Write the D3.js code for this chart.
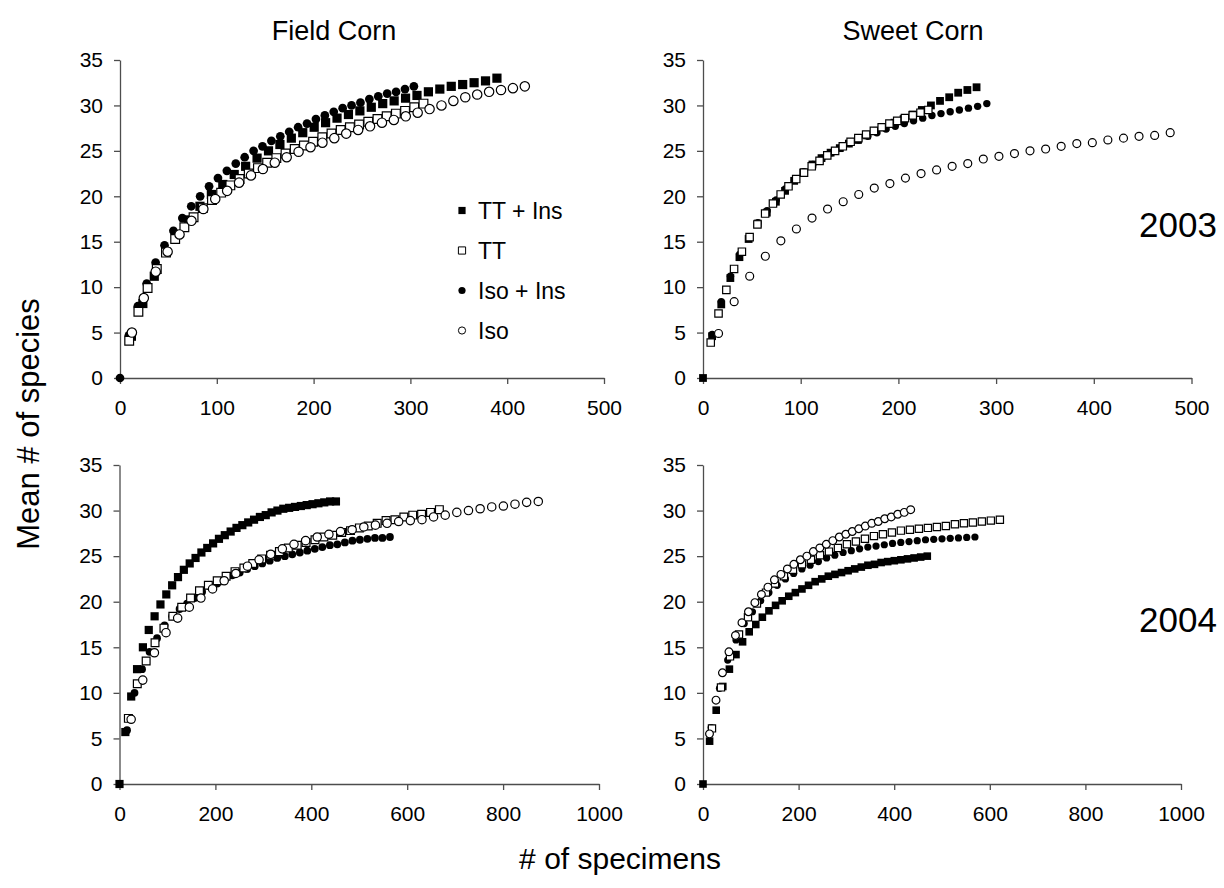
<!DOCTYPE html>
<html>
<head>
<meta charset="utf-8">
<script src="https://cdn.jsdelivr.net/npm/d3@7"></script>
<style>
  body { margin: 0; background: #fff; }
  svg { display: block; font-family: "Liberation Sans", Arial, Helvetica, sans-serif; }
</style>
</head>
<body>
<svg id="chart" width="1224" height="888"></svg>
<script>
// Species accumulation curves: [mean # of specimens, mean # of species]

// ---- Field Corn, 2003 ----
const fc03TTIns = [[11.8,4.6],[23.6,8.2],[35.4,11.2],[47.2,13.9],[59,15.8],[70.8,17.4],[82.6,18.9],[94.4,20.2],[106.2,21.3],[118,22.4],[129.8,23.3],[141.6,24.2],[153.4,25.0],[165.2,25.7],[177,26.4],[188.8,27.0],[200.6,27.6],[212.4,28.1],[224.2,28.6],[236,29.0],[247.8,29.4],[259.6,29.8],[271.4,30.2],[283.2,30.5],[295,30.8],[306.8,31.1],[318.6,31.5],[330.4,31.8],[342.2,32.1],[354,32.3],[365.8,32.5],[377.6,32.7],[389.4,33.0]];
const fc03TT = [[9.5,4.1],[19,7.3],[28.5,9.9],[38,12.0],[47.5,13.8],[57,15.3],[66.5,16.6],[76,17.7],[85.5,18.7],[95,19.6],[104.5,20.4],[114,21.2],[123.5,21.9],[133,22.5],[142.5,23.1],[152,23.7],[161.5,24.2],[171,24.7],[180.5,25.2],[190,25.6],[199.5,26.0],[209,26.5],[218.5,26.9],[228,27.3],[237.5,27.6],[247,27.9],[256.5,28.2],[266,28.5],[275.5,28.8],[285,29.1],[294.5,29.4],[304,29.8],[313.5,30.2]];
const fc03IsoIns = [[0,0],[9.2,4.7],[18.4,7.9],[27.6,10.4],[36.8,12.7],[46,14.6],[55.2,16.2],[64.4,17.6],[73.6,18.9],[82.8,20.0],[92,21.1],[101.2,22.0],[110.4,22.8],[119.6,23.6],[128.8,24.3],[138,25.0],[147.2,25.5],[156.4,26.1],[165.6,26.6],[174.8,27.1],[184,27.6],[193.2,28.0],[202.4,28.5],[211.6,28.9],[220.8,29.3],[230,29.7],[239.2,30.0],[248.4,30.3],[257.6,30.7],[266.8,31.0],[276,31.3],[285.2,31.5],[294.4,31.8],[303.6,32.1]];
const fc03Iso = [[12.3,5.0],[24.6,8.8],[36.9,11.7],[49.2,13.9],[61.5,15.8],[73.8,17.3],[86.1,18.6],[98.4,19.7],[110.7,20.6],[123,21.5],[135.3,22.3],[147.6,23.0],[159.9,23.7],[172.2,24.3],[184.5,24.9],[196.8,25.4],[209.1,25.9],[221.4,26.4],[233.7,26.9],[246,27.3],[258.3,27.7],[270.6,28.1],[282.9,28.4],[295.2,28.8],[307.5,29.2],[319.8,29.6],[332.1,30.0],[344.4,30.5],[356.7,30.9],[369,31.2],[381.3,31.5],[393.6,31.7],[405.9,31.9],[418.2,32.1]];

// ---- Sweet Corn, 2003 ----
const sc03TTIns = [[0,0],[9.3,4.6],[18.7,8.1],[28.0,11.0],[37.3,13.3],[46.7,15.3],[56.0,17.0],[65.3,18.2],[74.6,19.4],[84.0,20.6],[93.3,21.7],[102.6,22.6],[112.0,23.5],[121.3,24.2],[130.6,24.8],[140.0,25.3],[149.3,25.8],[158.6,26.2],[168.0,26.7],[177.3,27.2],[186.6,27.6],[196.0,28.1],[205.3,28.5],[214.6,29.0],[224.0,29.5],[233.3,30.0],[242.6,30.5],[252.0,30.9],[261.2,31.4],[270.6,31.7],[280.0,32.0]];
const sc03TT = [[7.9,3.9],[15.9,7.1],[23.9,9.7],[31.8,12.0],[39.8,13.9],[47.7,15.5],[55.7,16.9],[63.6,18.1],[71.6,19.2],[79.5,20.2],[87.5,21.1],[95.4,21.9],[103.4,22.6],[111.3,23.3],[119.3,23.9],[127.2,24.5],[135.2,25.0],[143.1,25.5],[151.1,26.0],[159.0,26.4],[167.0,26.8],[174.9,27.2],[182.9,27.6],[190.8,28.0],[198.8,28.3],[206.7,28.6],[214.7,28.9],[222.6,29.2],[230.6,29.5]];
const sc03IsoIns = [[9.4,4.8],[18.7,8.4],[28.1,11.2],[37.5,13.6],[46.8,15.5],[56.2,17.1],[65.6,18.4],[75.0,19.6],[84.3,20.8],[93.7,21.8],[103.1,22.7],[112.4,23.5],[121.8,24.2],[131.2,24.8],[140.6,25.3],[149.9,25.8],[159.3,26.2],[168.7,26.6],[178.0,27.0],[187.4,27.4],[196.8,27.7],[206.1,28.0],[215.5,28.3],[224.9,28.6],[234.3,28.9],[243.6,29.1],[253.0,29.3],[262.4,29.5],[271.7,29.7],[281.1,29.9],[290.5,30.2]];
const sc03Iso = [[15.9,4.9],[31.9,8.4],[47.8,11.2],[63.8,13.4],[79.7,15.1],[95.6,16.4],[111.6,17.6],[127.5,18.6],[143.5,19.4],[159.4,20.2],[175.3,20.9],[191.3,21.4],[207.2,22.0],[223.2,22.5],[239.1,22.9],[255.0,23.3],[271.0,23.6],[286.9,24.1],[302.9,24.4],[318.8,24.7],[334.7,25.0],[350.7,25.2],[366.6,25.5],[382.6,25.8],[398.5,25.9],[414.4,26.2],[430.4,26.4],[446.3,26.6],[462.3,26.7],[478.2,27.0]];

// ---- Field Corn, 2004 ----
const fc04TTIns = [[0,0],[12.2,5.7],[24.4,9.6],[36.6,12.6],[48.8,15.0],[61.0,16.9],[73.2,18.4],[85.4,19.7],[97.6,20.8],[109.8,21.8],[122.0,22.7],[134.2,23.5],[146.4,24.2],[158.6,24.8],[170.8,25.4],[183.0,25.9],[195.2,26.4],[207.4,26.9],[219.6,27.3],[231.8,27.7],[244.0,28.1],[256.2,28.4],[268.4,28.7],[280.6,29.0],[292.8,29.3],[305.0,29.5],[317.2,29.8],[329.4,30.0],[341.6,30.2],[353.8,30.3],[366.0,30.4],[378.2,30.5],[390.4,30.6],[402.6,30.7],[414.8,30.8],[427.0,30.9],[439.2,31.0],[451.4,31.0]];
const fc04TT = [[18.5,7.2],[37.1,11.0],[55.6,13.5],[74.1,15.5],[92.7,17.1],[111.2,18.4],[129.7,19.4],[148.2,20.4],[166.8,21.2],[185.3,21.8],[203.8,22.3],[222.4,22.8],[240.9,23.3],[259.4,23.7],[277.9,24.2],[296.5,24.7],[315.0,25.1],[333.5,25.5],[352.1,25.9],[370.6,26.2],[389.1,26.5],[407.7,26.8],[426.2,27.1],[444.7,27.3],[463.3,27.6],[481.8,27.8],[500.3,28.1],[518.8,28.3],[537.4,28.6],[555.9,28.9],[574.4,29.0],[593.0,29.3],[611.5,29.5],[630.0,29.6],[648.6,29.8],[667.1,30.1]];
const fc04IsoIns = [[15.7,5.9],[31.3,10.0],[47.0,12.6],[62.7,14.5],[78.3,16.0],[94.0,17.4],[109.7,18.4],[125.3,19.2],[141.0,19.8],[156.7,20.4],[172.3,21.1],[188.0,21.7],[203.7,22.0],[219.3,22.4],[235.0,22.9],[250.7,23.2],[266.3,23.6],[282.0,23.9],[297.7,24.2],[313.3,24.5],[329.0,24.8],[344.7,25.0],[360.3,25.2],[376.0,25.4],[391.7,25.6],[407.3,25.8],[423.0,26.0],[438.7,26.2],[454.3,26.3],[470.0,26.5],[485.7,26.7],[501.3,26.8],[517.0,26.9],[532.7,27.0],[548.3,27.0],[564.0,27.1]];
const fc04Iso = [[24.3,7.1],[48.5,11.4],[72.8,14.4],[97.0,16.6],[121.3,18.2],[145.6,19.4],[169.8,20.4],[194.1,21.4],[218.3,22.3],[242.6,23.1],[266.9,23.9],[291.1,24.6],[315.4,25.2],[339.6,25.8],[363.9,26.3],[388.2,26.7],[412.4,27.1],[436.7,27.4],[460.9,27.7],[485.2,27.9],[509.5,28.2],[533.7,28.4],[558.0,28.6],[582.2,28.8],[606.5,28.9],[630.8,29.0],[655.0,29.3],[679.3,29.5],[703.5,29.8],[727.8,30.0],[752.1,30.2],[776.3,30.4],[800.6,30.5],[824.8,30.7],[849.1,30.9],[873.4,31.0]];

// ---- Sweet Corn, 2004 ----
const sc04TTIns = [[0,0],[13.8,4.7],[27.6,8.1],[41.4,10.7],[55.2,12.6],[69.0,14.2],[82.8,15.6],[96.6,16.7],[110.4,17.5],[124.2,18.3],[138.0,19.0],[151.8,19.6],[165.6,20.1],[179.4,20.6],[193.2,21.0],[207.0,21.4],[220.8,21.8],[234.6,22.2],[248.4,22.5],[262.2,22.8],[276.0,23.0],[289.8,23.2],[303.6,23.4],[317.4,23.6],[331.2,23.8],[345.0,24.0],[358.8,24.1],[372.6,24.3],[386.4,24.4],[400.2,24.5],[414.0,24.6],[427.8,24.7],[441.6,24.8],[455.4,24.9],[469.2,25.0]];
const sc04TT = [[18.8,6.1],[37.6,10.6],[56.5,14.0],[75.3,16.4],[94.1,18.3],[112.9,19.8],[131.7,21.0],[150.6,22.0],[169.4,22.8],[188.2,23.5],[207.0,24.1],[225.8,24.6],[244.7,25.1],[263.5,25.5],[282.3,25.9],[301.1,26.3],[319.9,26.6],[338.8,26.9],[357.6,27.2],[376.4,27.4],[395.2,27.6],[414.0,27.8],[432.9,27.9],[451.7,28.0],[470.5,28.1],[489.3,28.2],[508.1,28.3],[527.0,28.5],[545.8,28.6],[564.6,28.7],[583.4,28.8],[602.2,28.9],[621.1,29.0]];
const sc04IsoIns = [[17.2,6.2],[34.5,10.5],[51.7,13.6],[69.0,15.8],[86.2,17.6],[103.4,18.9],[120.7,20.1],[137.9,21.0],[155.2,21.8],[172.4,22.5],[189.6,23.1],[206.9,23.6],[224.1,24.0],[241.4,24.4],[258.6,24.8],[275.8,25.1],[293.1,25.4],[310.3,25.6],[327.6,25.8],[344.8,26.0],[362.0,26.1],[379.3,26.25],[396.5,26.4],[413.8,26.5],[431.0,26.6],[448.2,26.7],[465.5,26.8],[482.7,26.85],[500.0,26.9],[517.2,26.95],[534.4,27.0],[551.7,27.05],[568.9,27.1]];
const sc04Iso = [[13.6,5.5],[27.2,9.2],[40.7,12.2],[54.3,14.5],[67.9,16.3],[81.5,17.7],[95.1,18.9],[108.6,19.9],[122.2,20.8],[135.8,21.6],[149.4,22.4],[163.0,23.0],[176.5,23.6],[190.1,24.1],[203.7,24.6],[217.3,25.0],[230.9,25.5],[244.4,25.9],[258.0,26.3],[271.6,26.7],[285.2,27.1],[298.8,27.4],[312.3,27.7],[325.9,28.0],[339.5,28.3],[353.1,28.6],[366.7,28.8],[380.2,29.1],[393.8,29.3],[407.4,29.6],[421.0,29.8],[434.5,30.1]];

// ---- Labels ----
const treatments = ["TT + Ins", "TT", "Iso + Ins", "Iso"];
const cropTitles = ["Field Corn", "Sweet Corn"];
const yearLabels = ["2003", "2004"];
const yTicks = [0, 5, 10, 15, 20, 25, 30, 35];
const xTicks2003 = [0, 100, 200, 300, 400, 500];
const xTicks2004 = [0, 200, 400, 600, 800, 1000];
const yAxisTitle = "Mean # of species";
const xAxisTitle = "# of specimens";

// Marker style per treatment
const styles = {
  "TT + Ins":  { shape: d3.symbolSquare, filled: true },
  "TT":        { shape: d3.symbolSquare, filled: false },
  "Iso + Ins": { shape: d3.symbolCircle, filled: true },
  "Iso":       { shape: d3.symbolCircle, filled: false }
};
// Drawing order (later on top)
const drawOrder = ["TT + Ins", "Iso + Ins", "TT", "Iso"];

const panels = [
  { xMax: 500,  ticks: xTicks2003, left: 120, right: 604,   top: 60,  bottom: 378, m: 9.2,
    data: { "TT + Ins": fc03TTIns, "TT": fc03TT, "Iso + Ins": fc03IsoIns, "Iso": fc03Iso } },
  { xMax: 500,  ticks: xTicks2003, left: 703, right: 1191.5, top: 60,  bottom: 378, m: 7.8,
    data: { "TT + Ins": sc03TTIns, "TT": sc03TT, "Iso + Ins": sc03IsoIns, "Iso": sc03Iso } },
  { xMax: 1000, ticks: xTicks2004, left: 119.5, right: 599, top: 465, bottom: 784, m: 8.2,
    data: { "TT + Ins": fc04TTIns, "TT": fc04TT, "Iso + Ins": fc04IsoIns, "Iso": fc04Iso } },
  { xMax: 1000, ticks: xTicks2004, left: 703, right: 1181,  top: 465, bottom: 784, m: 7.6,
    data: { "TT + Ins": sc04TTIns, "TT": sc04TT, "Iso + Ins": sc04IsoIns, "Iso": sc04Iso } }
];

const svg = d3.select("#chart");
const axisColor = "#4d4d4d";

function symbolPath(style, side) {
  // area so that squares have the given side and circles the given diameter
  const area = style.shape === d3.symbolSquare ? side * side : Math.PI * (side / 2) * (side / 2);
  return d3.symbol().type(style.shape).size(area)();
}

panels.forEach(p => {
  const x = d3.scaleLinear().domain([0, p.xMax]).range([p.left, p.right]);
  const y = d3.scaleLinear().domain([0, 35]).range([p.bottom, p.top]);

  const gx = svg.append("g")
    .attr("transform", `translate(0,${p.bottom})`)
    .call(d3.axisBottom(x).tickValues(p.ticks).tickFormat(d3.format("d"))
      .tickSize(6).tickSizeOuter(0).tickPadding(16));
  const gy = svg.append("g")
    .attr("transform", `translate(${p.left},0)`)
    .call(d3.axisLeft(y).tickValues(yTicks).tickFormat(d3.format("d"))
      .tickSize(6).tickSizeOuter(0).tickPadding(11));

  [gx, gy].forEach(g => {
    g.attr("font-family", null).attr("font-size", null);
    g.select(".domain").attr("stroke", axisColor).attr("stroke-width", 1.3);
    g.selectAll(".tick line").attr("stroke", axisColor).attr("stroke-width", 1.3);
    g.selectAll(".tick text").attr("fill", "#000").style("font-size", "21px");
  });

  const marks = svg.append("g");
  drawOrder.forEach(name => {
    const st = styles[name];
    const side = st.shape === d3.symbolCircle ? p.m * (st.filled ? 0.95 : 1.02) : p.m * (st.filled ? 1 : 0.95);
    const path = symbolPath(st, side);
    marks.append("g").selectAll("path")
      .data(p.data[name])
      .join("path")
      .attr("d", path)
      .attr("transform", d => `translate(${x(d[0])},${y(d[1])})`)
      .attr("fill", st.filled ? "#000" : "#fff")
      .attr("stroke", "#000")
      .attr("stroke-width", st.filled ? 0 : 1.2);
  });
});

// Column titles
const titleX = [334, 913];
cropTitles.forEach((t, i) => {
  svg.append("text")
    .attr("x", titleX[i])
    .attr("y", 40)
    .attr("text-anchor", "middle")
    .style("font-size", "27px")
    .text(t);
});

// Year labels
svg.append("text").attr("x", 1139).attr("y", 237).style("font-size", "35px").text(yearLabels[0]);
svg.append("text").attr("x", 1139).attr("y", 632).style("font-size", "35px").text(yearLabels[1]);

// Axis titles
svg.append("text")
  .attr("transform", "translate(39,424) rotate(-90)")
  .attr("text-anchor", "middle")
  .style("font-size", "31px")
  .text(yAxisTitle);
svg.append("text")
  .attr("x", 620)
  .attr("y", 869)
  .attr("text-anchor", "middle")
  .style("font-size", "30px")
  .text(xAxisTitle);

// Legend
const legend = svg.append("g");
treatments.forEach((name, i) => {
  const cy = 210.5 + i * 40;
  const st = styles[name];
  legend.append("path")
    .attr("d", symbolPath(st, 7.2))
    .attr("transform", `translate(462,${cy})`)
    .attr("fill", st.filled ? "#000" : "#fff")
    .attr("stroke", "#000")
    .attr("stroke-width", st.filled ? 0 : 1);
  legend.append("text")
    .attr("x", 478)
    .attr("y", cy + 8.2)
    .style("font-size", "23px")
    .text(name);
});
</script>
</body>
</html>
